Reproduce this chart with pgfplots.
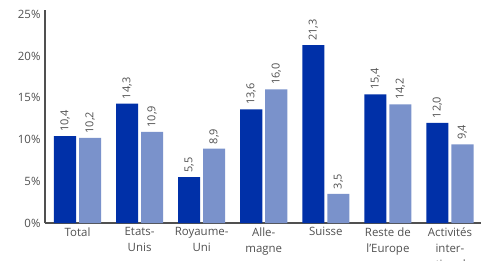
\documentclass[border=0pt]{standalone}
\usepackage{pgfplots}
\pgfplotsset{compat=1.18}
\usepackage{fontspec}
\setmainfont{Open Sans}
\definecolor{darkb}{HTML}{0030A8}
\definecolor{lightb}{HTML}{7A92CB}
\definecolor{txt}{HTML}{505050}
\begin{document}
\begin{tikzpicture}
\begin{axis}[
  scale only axis,
  width=436bp, height=213bp,
  xmin=-0.524, xmax=6.5,
  ymin=0, ymax=25.5,
  axis x line*=bottom, axis y line*=left,
  axis line style={color=txt, line width=1.6pt},
  ytick={0,5,10,15,20,25},
  xtick={0,1,2,3,4,5,6},
  xticklabels={Total, Etats-\\Unis, Royaume-\\Uni, Alle-\\magne, Suisse, Reste de\\l’Europe, Activités\\inter-\\nationales},
  major tick length=0pt,
  /pgf/number format/assume math mode=true,
  yticklabel={\pgfmathprintnumber{\tick}\%},
  ticklabel style={font=\fontsize{11.5}{16}\selectfont, color=txt},
  xticklabel style={align=center, yshift=-1bp},
  yticklabel style={xshift=-1bp},
  ybar, bar width=0.355,
  enlarge x limits=false,
  nodes near coords,
  nodes near coords style={rotate=90, anchor=west, font=\fontsize{11}{12}\selectfont, color=txt, xshift=1bp,
    /pgf/number format/.cd, use comma, fixed, fixed zerofill, precision=1},
  clip=false,
]
\addplot[fill=darkb, draw=none, bar shift=-0.2016] coordinates {(0,10.4) (1,14.3) (2,5.5) (3,13.6) (4,21.3) (5,15.4) (6,12.0)};
\addplot[fill=lightb, draw=none, bar shift=0.2016] coordinates {(0,10.2) (1,10.9) (2,8.9) (3,16.0) (4,3.5) (5,14.2) (6,9.4)};
\end{axis}
\pgfresetboundingbox
\useasboundingbox ([xshift=-45bp,yshift=-38bp]current axis.south west) rectangle ([xshift=0bp,yshift=223bp]current axis.south east);
\end{tikzpicture}
\end{document}
